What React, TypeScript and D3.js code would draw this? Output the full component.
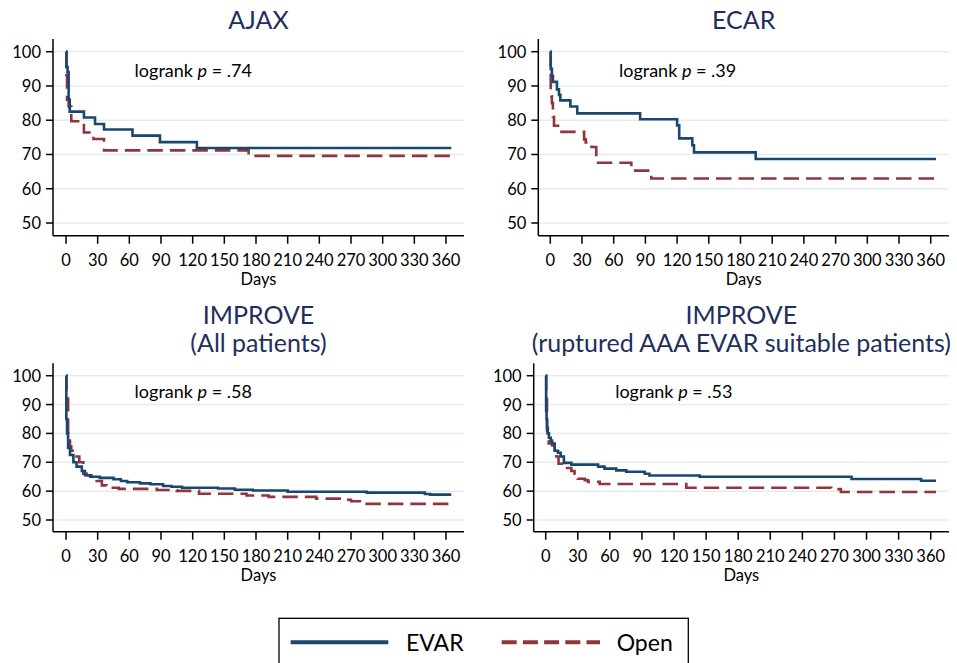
import React from 'react';
import * as d3 from 'd3';

// Kaplan-Meier steps: [day, survival %]
const ajaxEvar = [[0, 100], [0.5, 95.5], [1.5, 94], [2.5, 86], [3.5, 82.5], [17, 80.8], [27.5, 78.9], [36, 77.3], [63, 75.5], [89, 73.6], [124, 71.9], [365, 71.9]];
const ajaxOpen = [[0, 100], [0.3, 93.2], [1, 86], [2.5, 84], [5, 79.7], [17, 76.4], [26, 74.5], [36, 71.2], [173, 69.6], [365, 69.6]];

const ecarEvar = [[0, 100], [0.4, 95], [1.5, 93], [2.5, 91.2], [6.3, 89], [8.2, 87.4], [9.5, 85.8], [19, 84], [25.5, 82], [85, 80.3], [120, 78.5], [122, 74.7], [134.4, 72.7], [136, 70.6], [194.4, 68.7], [365, 68.7]];
const ecarOpen = [[0, 100], [0.4, 89], [1, 87], [1.5, 85], [2.5, 81], [3.5, 78.4], [8.8, 76.6], [32, 74.4], [33.5, 73.5], [39, 72.2], [43.5, 67.6], [76.7, 65.3], [95.6, 63], [365, 63]];

const improveAllEvar = [[0, 100], [0.3, 85], [1, 80], [2, 75], [3.8, 72.5], [7, 70], [10, 68.5], [15, 67], [18, 65.5], [23, 65], [32, 64.6], [45, 64.1], [52, 63.5], [58, 63.1], [70, 62.7], [80, 62.4], [92, 61.8], [100, 61.5], [110, 61.2], [144, 60.9], [160, 60.5], [177, 60.2], [210, 59.8], [285, 59.5], [340, 59.0], [345, 58.8], [365, 58.8]];
const improveAllOpen = [[0, 100], [0.5, 95], [1.2, 92], [2, 80], [3.8, 75.5], [5, 74], [10, 72], [12.6, 70], [16.4, 66], [19.6, 65.5], [24, 65], [29, 63.5], [34, 62], [38.5, 61.2], [50, 60.8], [86, 60.4], [105, 60.1], [126, 59.1], [171, 58.5], [192, 58], [237, 57.4], [261, 57], [270, 56.5], [278.5, 55.6], [365, 55.6]];

const improveRuptEvar = [[0, 100], [0.4, 88], [0.8, 85], [1.3, 82], [2, 80], [3, 78.5], [4.7, 77.5], [6, 76.5], [8.4, 74], [11.5, 73.3], [14, 72], [17, 69.8], [24, 69.2], [49, 68.5], [55, 67.8], [66, 67.2], [75.4, 66.7], [92.6, 66], [97, 65.4], [144, 65], [286, 64.2], [351, 63.6], [365, 63.6]];
const improveRuptOpen = [[0, 100], [0.5, 92], [1.2, 81], [1.8, 79.5], [2.8, 76.5], [6, 75.8], [8.4, 74.5], [10, 72], [12, 69.5], [18.4, 68], [24, 67], [27, 66], [30, 64.3], [36.5, 63.8], [39.6, 63.2], [50.5, 62.5], [131.5, 61.2], [267, 60.7], [276, 59.7], [365, 59.7]];

const dayTicks = [0, 30, 60, 90, 120, 150, 180, 210, 240, 270, 300, 330, 360];
const pctTicks = [50, 60, 70, 80, 90, 100];
const seriesNames = ['EVAR', 'Open'];

const EVAR_COLOR = '#1a476f';
const OPEN_COLOR = '#90353b';
const TITLE_COLOR = '#1e2f5c';
const GRID_COLOR = '#e4ecf0';
const FONT = 'Lato, "Open Sans", sans-serif';

const panels = [
  { title: ['AJAX'], p: '.74', evar: ajaxEvar, open: ajaxOpen, axisX: 53, right: 464, top: 39, bottom: 235.7, xr: [66, 446], yr: [223, 51.7], titleY: [28.5] },
  { title: ['ECAR'], p: '.39', evar: ecarEvar, open: ecarOpen, axisX: 538.3, right: 949, top: 39, bottom: 235.7, xr: [550.3, 930.7], yr: [223, 51.7], titleY: [28.5] },
  { title: ['IMPROVE', '(All patients)'], p: '.58', evar: improveAllEvar, open: improveAllOpen, axisX: 53, right: 464, top: 363.3, bottom: 531.7, xr: [66, 446], yr: [520, 375.7], titleY: [324.3, 352] },
  { title: ['IMPROVE', '(ruptured AAA EVAR suitable patients)'], p: '.53', evar: improveRuptEvar, open: improveRuptOpen, axisX: 533.7, right: 949, top: 363.3, bottom: 531.7, xr: [545.7, 930.7], yr: [520, 375.7], titleY: [324.3, 352] },
];

function Panel({ cfg }) {
  const x = d3.scaleLinear().domain([0, 360]).range(cfg.xr);
  const y = d3.scaleLinear().domain([50, 100]).range(cfg.yr);
  const line = d3.line().x((d) => x(d[0])).y((d) => y(d[1])).curve(d3.curveStepAfter);
  const mid = (cfg.axisX + cfg.right) / 2;
  return (
    <g>
      {cfg.title.map((t, i) => (
        <text key={i} x={mid} y={cfg.titleY[i]} textAnchor="middle" fontSize={25} fill={TITLE_COLOR}>{t}</text>
      ))}
      {pctTicks.map((v) => (
        <line key={'g' + v} x1={cfg.axisX} x2={cfg.right} y1={y(v)} y2={y(v)} stroke={GRID_COLOR} strokeWidth={1.5} />
      ))}
      <path d={line(cfg.open)} fill="none" stroke={OPEN_COLOR} strokeWidth={2.6} strokeDasharray="15.5,7" />
      <path d={line(cfg.evar)} fill="none" stroke={EVAR_COLOR} strokeWidth={2.6} />
      <line x1={cfg.axisX} x2={cfg.axisX} y1={cfg.top} y2={cfg.bottom} stroke="#000" strokeWidth={1.5} />
      <line x1={cfg.axisX} x2={cfg.right} y1={cfg.bottom} y2={cfg.bottom} stroke="#000" strokeWidth={1.5} />
      {pctTicks.map((v) => (
        <g key={'y' + v}>
          <line x1={cfg.axisX - 7} x2={cfg.axisX} y1={y(v)} y2={y(v)} stroke="#000" strokeWidth={1.5} />
          <text x={cfg.axisX - 12} y={y(v) + 6} textAnchor="end" fontSize={16.5}>{v}</text>
        </g>
      ))}
      {dayTicks.map((v) => (
        <g key={'x' + v}>
          <line x1={x(v)} x2={x(v)} y1={cfg.bottom} y2={cfg.bottom + 8} stroke="#000" strokeWidth={1.5} />
          <text x={x(v)} y={cfg.bottom + 30} textAnchor="middle" fontSize={16.5}>{v}</text>
        </g>
      ))}
      <text x={mid} y={cfg.bottom + 49} textAnchor="middle" fontSize={16.5}>Days</text>
      <text x={x(65)} y={y(94.6) + 6.5} fontSize={18}>
        logrank <tspan fontStyle="italic">p</tspan> = {cfg.p}
      </text>
    </g>
  );
}

export default function App() {
  return (
    <svg width={957} height={663} style={{ position: 'absolute', left: 0, top: 0, background: '#fff' }} fontFamily={FONT}>
      <rect x={0} y={0} width={957} height={663} fill="#fff" />
      {panels.map((p, i) => <Panel key={i} cfg={p} />)}
      <g>
        <rect x={279} y={618.3} width={409.3} height={80} fill="#fff" stroke="#000" strokeWidth={1.3} />
        <line x1={290.7} x2={388.3} y1={642.3} y2={642.3} stroke={EVAR_COLOR} strokeWidth={4} />
        <text x={406} y={650.5} fontSize={23}>{seriesNames[0]}</text>
        <line x1={501.7} x2={600} y1={642.3} y2={642.3} stroke={OPEN_COLOR} strokeWidth={4} strokeDasharray="15,6.2" />
        <text x={616.7} y={650.5} fontSize={23}>{seriesNames[1]}</text>
      </g>
    </svg>
  );
}
